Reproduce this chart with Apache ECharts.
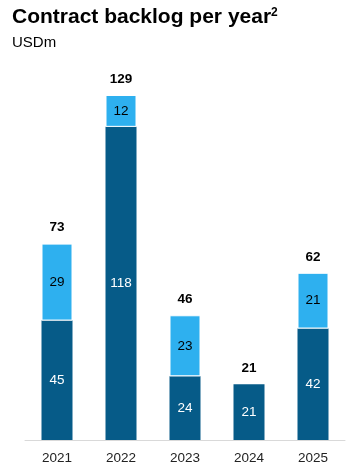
<!DOCTYPE html>
<html>
<head>
<meta charset="utf-8">
<script src="https://cdn.jsdelivr.net/npm/echarts@6/dist/echarts.min.js"></script>
<style>
  html, body { margin: 0; padding: 0; background: #fff; }
  #chart { width: 352px; height: 474px; }
</style>
</head>
<body>
<div id="chart"></div>
<script>
  const years = ["2021", "2022", "2023", "2024", "2025"];
  const lowerValues = [45, 118, 24, 21, 42];
  const upperValues = [29, 12, 23, null, 21];
  const totals = [73, 129, 46, 21, 62];

  const chart = echarts.init(document.getElementById("chart"));

  const option = {
    animation: false,
    textStyle: { fontFamily: "Liberation Sans, Arial, sans-serif" },
    title: [
      {
        text: "Contract backlog per year{sup|2}",
        left: 7,
        top: 2,
        textStyle: {
          fontSize: 21,
          fontWeight: "bold",
          color: "#000",
          rich: {
            sup: { fontSize: 12, fontWeight: "bold", color: "#000", verticalAlign: "top", padding: [0, 0, 8, 0] },
          },
        },
      },
      {
        text: "USDm",
        left: 7,
        top: 30,
        textStyle: { fontSize: 15, fontWeight: "normal", color: "#000" },
      },
    ],
    grid: { left: 25, right: 7, top: 95, bottom: 34 },
    xAxis: {
      type: "category",
      data: years,
      axisLine: { lineStyle: { color: "#d9d9d9", width: 1 } },
      axisTick: { show: false },
      axisLabel: { color: "#222", fontSize: 13.5, margin: 11 },
    },
    yAxis: {
      type: "value",
      min: 0,
      max: 130,
      show: false,
      splitLine: { show: false },
    },
    series: [
      {
        name: "lower",
        type: "bar",
        stack: "a",
        barWidth: 31,
        data: lowerValues,
        itemStyle: { color: "#065b88" },
        label: { show: true, position: "inside", color: "#fff", fontSize: 13.5 },
      },
      {
        name: "upper",
        type: "bar",
        stack: "a",
        data: upperValues,
        itemStyle: { color: "#2eb0ef", borderColor: "#fff", borderWidth: 1 },
        label: { show: true, position: "inside", color: "#000", fontSize: 13.5 },
      },
      {
        name: "total",
        type: "bar",
        stack: "a",
        data: years.map(() => 0),
        itemStyle: { color: "transparent" },
        label: {
          show: true,
          position: "top",
          distance: 9,
          color: "#000",
          fontSize: 13.5,
          fontWeight: "bold",
          formatter: p => totals[p.dataIndex],
        },
      },
    ],
  };

  chart.setOption(option);
</script>
</body>
</html>
